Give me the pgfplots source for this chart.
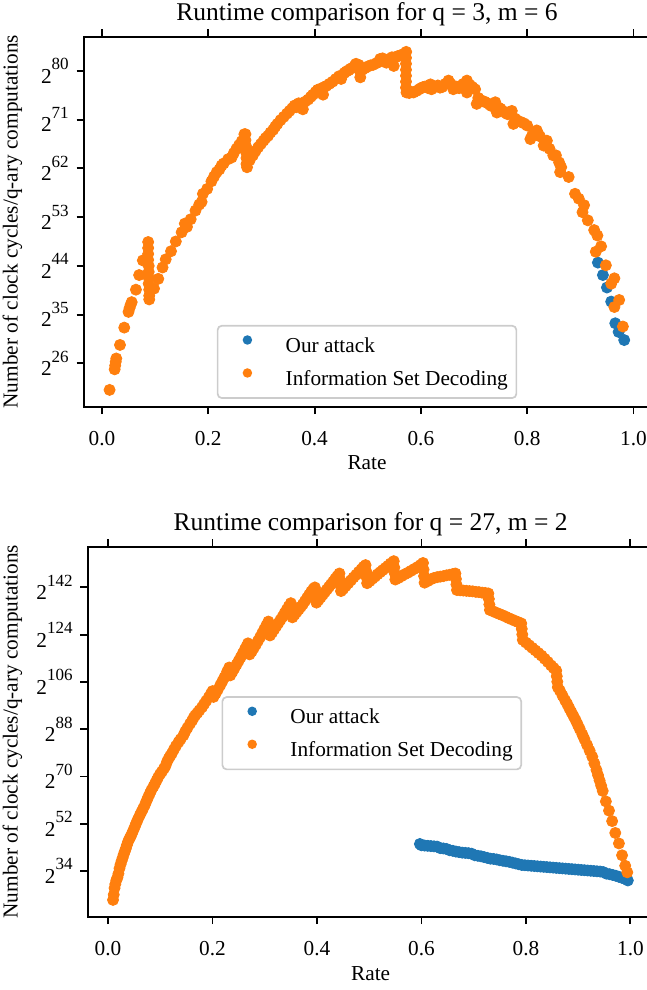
\documentclass[border=0pt]{standalone}
\usepackage{fontspec}
\setmainfont{Liberation Serif}
\usepackage{pgfplots}
\pgfplotsset{compat=1.18}
\definecolor{tabblue}{RGB}{31,119,180}
\definecolor{taborange}{RGB}{255,127,14}
\definecolor{legframe}{RGB}{204,204,204}
% 2^n tick label in the text font
\newcommand\pw[1]{2\raisebox{6.3pt}{\fontsize{8}{8}\selectfont #1}}

\pgfplotsset{
  every axis title/.style={at={(0.5,1)}, anchor=base, yshift=7.5pt,
    inner sep=0pt, font=\fontsize{12}{14}\selectfont},
  every axis x label/.style={at={(0.5,0)}, anchor=base, yshift=-29.75pt, inner sep=0pt},
  rt/.style={
    scale only axis, height=173.9pt,
    axis line style={line width=0.9pt},
    tick align=outside, major tick length=3.5pt,
    every tick/.style={black, line width=0.9pt},
    xtick={0,0.2,0.4,0.6,0.8,1},
    xticklabels={0.0,0.2,0.4,0.6,0.8,1.0},
    xticklabel style={anchor=base, inner sep=0pt, yshift=-14.6pt},
    yticklabel style={anchor=east, inner sep=0pt, xshift=-3.5pt},
    xlabel={Rate},
    ylabel={Number of clock cycles/q-ary computations},
    legend cell align=left,
    legend image code/.code={\path[draw=none,fill=none] (0pt,0pt) (20pt,6pt);
      \draw[mark repeat=2,mark phase=2,##1,mark size=1.8pt,fill opacity=1,draw opacity=1]
      plot coordinates {(0pt,3.3pt) (10pt,3.3pt) (20pt,3.3pt)};},
    legend style={draw=legframe, line width=0.8pt, rounded corners=2pt,
      fill=white, fill opacity=0.8, text opacity=1,
      inner xsep=4pt, inner ysep=4pt, row sep=5pt,
      nodes={inner sep=0pt, text height=7pt, text depth=2pt},
      /tikz/every odd column/.append style={column sep=8pt}},
  },
  attack/.style={only marks, mark=*, mark size=2.6pt, color=tabblue, mark options={draw=none, fill=tabblue}},
  isd/.style={only marks, mark=*, mark size=2.6pt, color=taborange, mark options={draw=none, fill=taborange}},
}

\begin{document}
\begin{tikzpicture}
% ---------- q = 3, m = 6 ----------
\begin{axis}[rt, at={(39.48pt,-17.25pt)}, anchor=north west,
  width=266.02pt,
  xmin=-0.0337, xmax=1.031, ymin=18.0, ymax=86.3,
  ytick={26,35,44,53,62,71,80},
  yticklabels={\pw{26},\pw{35},\pw{44},\pw{53},\pw{62},\pw{71},\pw{80}},
  title={Runtime comparison for q = 3, m = 6},
  ylabel style={at={(axis description cs:-0.1085,0.5)}, anchor=south, inner sep=0pt},
  legend style={at={(0.5,0.021)}, anchor=south},
]
\addplot[attack] coordinates {
(0.933,44.6) (0.9424,42.3) (0.950,40.0) (0.958,37.4) (0.9657,33.4) (0.972,31.8) (0.9825,30.3)
};
\addlegendentry{Our attack}
\addplot[isd] coordinates {
(0.0144,21.1) (0.024,24.9) (0.025,25.6) (0.026,26.3) (0.027,26.9) (0.034,29.4) (0.042,32.6)
(0.050,35.5) (0.052,36.2) (0.054,36.8) (0.056,37.3) (0.064,39.6) (0.070,42.3) (0.077,45.0)
(0.087,48.4) (0.087,47.3) (0.087,46.2) (0.087,45.1) (0.088,44.0) (0.088,42.9) (0.088,41.8)
(0.088,40.7) (0.089,39.6) (0.089,38.5) (0.089,37.8)
(0.098,39.8) (0.106,41.6) (0.114,43.7) (0.120,45.2) (0.130,46.7) (0.139,48.5) (0.150,50.2)
(0.156,51.8) (0.160,51.2) (0.167,52.6) (0.176,54.2) (0.183,55.3) (0.1875,55.8) (0.190,57.3)
(0.198,58.2) (0.206,59.6) (0.211,60.5) (0.216,61.3) (0.221,61.8) (0.225,62.5) (0.229,62.9)
(0.2375,63.7) (0.244,64.0) (0.248,64.8) (0.253,65.6) (0.258,66.3) (0.263,67.0) (0.268,68.3)
(0.270,68.3) (0.270,67.2) (0.271,66.1) (0.271,65.0) (0.272,63.9) (0.272,62.8) (0.273,62.2)
(0.278,63.5) (0.284,64.4) (0.289,65.2) (0.294,65.9) (0.299,66.5) (0.304,67.1) (0.308,67.6)
(0.3125,68.0) (0.317,68.6) (0.322,69.1) (0.326,69.7) (0.330,70.2) (0.336,70.9) (0.342,71.5)
(0.348,72.1) (0.353,72.6) (0.358,73.1) (0.3625,73.6) (0.366,73.3) (0.370,74.0) (0.375,73.6)
(0.378,72.9) (0.382,74.3) (0.388,74.7) (0.393,75.2) (0.397,75.6) (0.402,76.1) (0.406,76.5)
(0.411,76.7) (0.416,75.6) (0.418,77.0) (0.422,77.2) (0.428,77.6) (0.434,78.0) (0.440,78.5)
(0.446,79.0) (0.450,78.5) (0.456,79.6) (0.460,79.9) (0.464,80.1) (0.468,80.4) (0.472,80.6)
(0.476,81.0) (0.478,81.3) (0.483,81.1) (0.486,78.8) (0.486,79.8) (0.490,80.2) (0.495,80.5)
(0.500,80.8) (0.505,81.0) (0.510,81.1) (0.516,81.4) (0.520,81.6) (0.5235,82.2) (0.528,82.3)
(0.532,81.8) (0.535,81.5) (0.540,81.8) (0.5455,82.5) (0.549,80.9) (0.552,82.5) (0.556,82.7)
(0.560,82.8) (0.565,83.0) (0.570,83.2) (0.5724,83.5)
(0.572,82.4) (0.572,81.3) (0.572,80.2) (0.572,79.1) (0.572,78.0) (0.572,76.9) (0.573,76.0)
(0.578,75.9) (0.582,76.1) (0.586,76.0) (0.592,76.3) (0.597,76.6) (0.600,76.8) (0.604,77.0)
(0.608,77.1) (0.614,76.8) (0.618,77.5) (0.620,76.6) (0.626,77.0) (0.632,77.3) (0.636,76.9)
(0.640,77.0) (0.646,77.6) (0.652,78.2) (0.656,77.6) (0.661,76.6) (0.666,77.1) (0.672,76.8)
(0.676,77.3) (0.680,77.6) (0.6866,78.2) (0.6866,76.0) (0.692,77.4) (0.697,77.0) (0.702,76.6)
(0.705,73.9) (0.708,75.0) (0.712,74.6) (0.716,74.4) (0.720,74.3) (0.726,74.0) (0.730,73.7)
(0.733,73.5) (0.737,73.9) (0.740,74.2) (0.743,72.3) (0.746,73.2) (0.750,73.0) (0.756,72.5)
(0.760,72.2) (0.763,72.0) (0.767,72.4) (0.771,72.6) (0.774,70.2) (0.777,71.2) (0.780,70.9)
(0.787,70.6) (0.794,70.3) (0.800,69.9) (0.806,67.4) (0.809,68.0) (0.812,68.3) (0.818,69.0)
(0.821,68.3) (0.824,67.9) (0.831,66.2) (0.837,67.1) (0.842,65.6) (0.849,64.4) (0.854,64.4)
(0.860,63.1) (0.864,62.2) (0.862,61.3) (0.878,60.4) (0.890,57.3) (0.897,56.4) (0.904,53.9)
(0.907,55.2) (0.914,52.4) (0.926,50.6) (0.932,49.6) (0.929,46.6) (0.939,47.6) (0.948,44.1)
(0.964,41.7) (0.958,40.7) (0.973,37.7) (0.964,36.4) (0.980,32.8)
};
\addlegendentry{Information Set Decoding}
\end{axis}

% ---------- q = 27, m = 2 ----------
\begin{axis}[rt, at={(41.31pt,-256.95pt)}, anchor=north west,
  width=265.79pt,
  xmin=-0.0385, xmax=1.044, ymin=16.6, ymax=157.5,
  ytick={34,52,70,88,106,124,142},
  yticklabels={\pw{34},\pw{52},\pw{70},\pw{88},\pw{106},\pw{124},\pw{142}},
  title={Runtime comparison for q = 27, m = 2},
  ylabel style={at={(axis description cs:-0.1155,0.5)}, anchor=south, inner sep=0pt},
  legend style={at={(0.502,0.596)}, anchor=north},
]
\addplot[attack] coordinates {
(0.597,44.3) (0.600,43.8) (0.606,43.7) (0.612,43.6) (0.618,43.5) (0.624,43.4) (0.630,43.3)
(0.636,42.7) (0.642,42.6) (0.648,42.4) (0.654,41.9) (0.660,41.7) (0.666,41.4) (0.672,41.2)
(0.678,41.0) (0.684,40.9) (0.690,40.8) (0.696,40.6) (0.702,40.0) (0.708,39.8) (0.714,39.6)
(0.720,39.3) (0.726,39.0) (0.732,38.7) (0.738,38.6) (0.744,38.4) (0.750,38.1) (0.756,37.9)
(0.762,37.7) (0.768,37.5) (0.774,37.2) (0.780,36.9) (0.786,36.6) (0.792,36.3) (0.798,36.2)
(0.804,36.1) (0.810,36.0) (0.816,35.9) (0.822,35.8) (0.828,35.7) (0.834,35.6) (0.840,35.5)
(0.846,35.4) (0.852,35.3) (0.858,35.2) (0.864,35.1) (0.870,35.0) (0.876,34.9) (0.882,34.8)
(0.888,34.7) (0.894,34.6) (0.900,34.5) (0.906,34.4) (0.912,34.3) (0.918,34.2) (0.924,34.1)
(0.930,34.0) (0.936,33.9) (0.942,33.8) (0.948,33.6) (0.954,33.0) (0.960,32.8) (0.966,32.5)
(0.972,32.2) (0.978,31.8) (0.984,31.4) (0.990,31.0) (0.995,30.4)
};
\addlegendentry{Our attack}
\addplot[isd] coordinates {
(0.0096,23.0) (0.011,25.0) (0.0125,27.5) (0.014,29.0) (0.016,30.5) (0.018,31.5) (0.020,33.0)
(0.022,35.0) (0.024,36.5) (0.026,37.8) (0.028,39.0) (0.030,40.3) (0.032,41.4) (0.034,42.5)
(0.036,43.8) (0.0385,45.2) (0.041,46.3) (0.043,47.0) (0.045,47.9) (0.048,49.3) (0.0514,50.9)
(0.054,52.2) (0.057,53.6) (0.061,55.3) (0.064,56.5) (0.067,57.7) (0.0707,59.2) (0.074,60.8)
(0.077,62.2) (0.080,63.5) (0.083,64.8) (0.087,66.2) (0.090,67.3) (0.093,68.5) (0.096,69.7)
(0.0996,70.9) (0.103,71.8) (0.107,73.0) (0.110,74.0) (0.113,75.6) (0.116,76.8) (0.119,77.8)
(0.122,78.7) (0.126,80.2) (0.130,81.6) (0.135,83.1) (0.139,84.2) (0.1445,85.7) (0.148,87.2)
(0.152,88.5) (0.157,90.1) (0.161,91.3) (0.164,92.4) (0.167,93.3) (0.171,94.2) (0.175,95.2)
(0.180,96.4) (0.184,97.6) (0.188,98.8) (0.193,100.2) (0.197,101.5) (0.200,102.5)
(0.201,101.3) (0.202,100.3)
(0.206,101.6) (0.210,103.0) (0.215,104.8) (0.219,106.3) (0.223,107.8) (0.228,109.9) (0.232,111.5)
(0.233,110.0) (0.234,108.5)
(0.238,109.8) (0.242,111.2) (0.246,112.6) (0.250,114.0) (0.254,115.4) (0.258,116.9) (0.262,118.4)
(0.265,119.5) (0.268,120.7)
(0.269,119.2) (0.270,117.8) (0.271,116.5)
(0.275,117.6) (0.279,118.9) (0.283,120.2) (0.287,121.6) (0.291,123.0) (0.295,124.5) (0.299,126.0)
(0.303,127.5) (0.307,129.0)
(0.308,127.3) (0.309,125.5) (0.310,123.7)
(0.314,124.8) (0.318,126.0) (0.322,127.2) (0.326,128.4) (0.330,129.6) (0.334,130.8) (0.338,132.2)
(0.342,133.5) (0.346,134.8) (0.350,136.0)
(0.351,134.2) (0.352,132.4) (0.353,130.6)
(0.357,131.6) (0.361,132.6) (0.365,133.6) (0.369,134.6) (0.373,135.6) (0.377,136.8) (0.381,138.0)
(0.385,139.2) (0.389,140.4) (0.393,141.4) (0.396,142.0)
(0.397,140.0) (0.398,138.0) (0.399,136.2)
(0.403,137.2) (0.407,138.2) (0.411,139.2) (0.415,140.2) (0.419,141.2) (0.423,142.2) (0.427,143.2)
(0.431,144.2) (0.435,145.3) (0.439,146.3) (0.443,147.3)
(0.444,145.1) (0.445,142.8) (0.446,140.6)
(0.450,141.4) (0.455,142.5) (0.460,143.6) (0.465,144.7) (0.470,145.8) (0.475,146.8) (0.480,147.9)
(0.485,148.9) (0.489,149.8) (0.493,150.5)
(0.494,148.2) (0.495,145.8) (0.496,143.6)
(0.501,144.4) (0.506,145.3) (0.511,146.1) (0.516,147.0) (0.521,147.8) (0.526,148.6) (0.531,149.4)
(0.536,150.2) (0.541,151.1) (0.547,152.0)
(0.548,149.6) (0.549,147.3) (0.550,145.0)
(0.556,145.6) (0.562,146.3) (0.568,147.0) (0.574,147.6) (0.580,148.3) (0.586,149.0) (0.592,149.7)
(0.598,150.5) (0.603,151.3)
(0.604,148.8) (0.605,146.3) (0.606,143.8)
(0.612,144.4) (0.618,145.1) (0.624,145.6) (0.630,145.9) (0.636,146.1) (0.642,146.3) (0.648,146.6)
(0.654,146.8) (0.660,147.1) (0.665,147.3)
(0.666,145.2) (0.667,143.1) (0.668,141.0)
(0.674,140.9) (0.680,140.8) (0.686,140.7) (0.692,140.6) (0.698,140.5) (0.704,140.3) (0.710,140.2)
(0.716,140.0) (0.722,139.9) (0.728,139.7)
(0.729,137.6) (0.730,135.5) (0.731,133.4)
(0.737,132.9) (0.743,132.4) (0.749,131.9) (0.755,131.4) (0.761,130.9) (0.767,130.3) (0.773,129.8)
(0.779,129.3) (0.785,128.8) (0.791,128.3)
(0.792,126.2) (0.793,124.1) (0.794,122.0)
(0.800,121.0) (0.806,120.0) (0.812,119.0) (0.818,118.0) (0.824,117.0) (0.830,116.0) (0.836,114.8)
(0.842,113.6) (0.848,112.3) (0.853,111.3) (0.858,110.3)
(0.859,108.2) (0.860,106.1) (0.861,104.0)
(0.865,102.7) (0.870,100.8) (0.875,99.0) (0.879,97.6) (0.883,96.0) (0.887,94.5) (0.891,93.0)
(0.895,91.5) (0.899,89.8) (0.903,88.1) (0.908,86.0) (0.912,84.2) (0.917,82.0) (0.922,79.8)
(0.927,77.5) (0.931,75.0) (0.935,72.5) (0.938,70.5) (0.941,68.5) (0.944,66.5) (0.947,64.5)
(0.953,60.5) (0.959,57.0) (0.965,53.0) (0.971,48.5) (0.978,44.5) (0.984,40.0) (0.990,36.0)
(0.994,33.5)
};
\addlegendentry{Information Set Decoding}
\end{axis}
\pgfresetboundingbox
\useasboundingbox (0,0) rectangle (304.09pt,-465.3pt);
\end{tikzpicture}
\end{document}
